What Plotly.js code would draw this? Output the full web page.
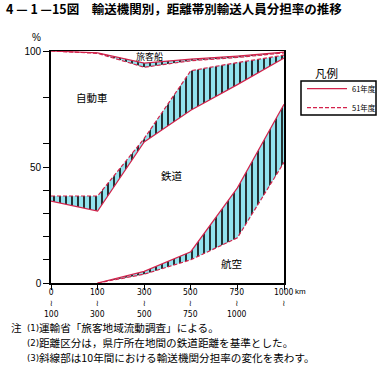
<!DOCTYPE html>
<html>
<head>
<meta charset="utf-8">
<script src="https://cdn.plot.ly/plotly-3.0.1.min.js"></script>
<style>html,body{margin:0;padding:0;background:#fff;}#chart{width:381px;height:371px;}</style>
</head>
<body>
<div id="chart"></div>
<script>
// distance bands (km) – category positions
const distIndex = [0, 1, 2, 3, 4, 5];
const tickTop = ['0', '100', '300', '500', '750', '1000'];
const tickBottom = ['100', '300', '500', '750', '1000', ''];
// boundary car / passenger ship (cumulative %)
const ship61 = [100, 99.2, 94.8, 96.5, 97.8, 99.5];
const ship51 = [100, 99.0, 93.0, 95.8, 97.2, 99.2];
// boundary rail / car (cumulative %)
const car61 = [35.3, 31.0, 60.8, 74.5, 85.5, 97.0];
const car51 = [37.5, 37.5, 62.3, 91.5, 95.0, 98.2];
// boundary air / rail (cumulative %), from the 100km band on
const airIndex = [1, 2, 3, 4, 5];
const air61 = [0, 5.0, 13.5, 41.0, 77.0];
const air51 = [0, 3.8, 10.0, 19.5, 52.0];
// y ticks
const yTickVals = [0, 10, 20, 30, 40, 50, 60, 80, 100];
const yTickText = ['0', '', '', '', '', '50', '', '', '100'];
// region labels
const regionNames = ['自動車', '旅客船', '鉄道', '航空'];
const regionX = [0.87, 2.12, 2.6, 3.88];
const regionY = [80, 97.8, 46.5, 8.3];
const legendNames = ['61年度', '51年度'];
const noteMarks = ['(1)', '(2)', '(3)'];
const notes = ['運輸省「旅客地域流動調査」による。',
               '距離区分は，県庁所在地間の鉄道距離を基準とした。',
               '斜線部は10年間における輸送機関分担率の変化を表わす。'];

const RED = '#d3224b';
const DASH = '4px,2px';
const CJK = '"Noto Sans CJK JP", "Noto Sans", sans-serif';
const NUM = '"Liberation Sans Narrow", "DejaVu Sans Condensed", Arial, sans-serif';
const pattern = {shape: '|', size: 6, solidity: 0.28, fgcolor: '#101010', bgcolor: '#92e2ee', fillmode: 'replace'};

function band(x, y51, y61) {
  return [
    {x: x, y: y51, type: 'scatter', mode: 'lines', line: {color: RED, width: 1.2, dash: DASH}, showlegend: false, hoverinfo: 'skip'},
    {x: x, y: y61, type: 'scatter', mode: 'lines', line: {color: RED, width: 1.2}, fill: 'tonexty',
     fillcolor: '#92e2ee', fillpattern: pattern, showlegend: false, hoverinfo: 'skip'}
  ];
}

const traces = [].concat(
  band(distIndex, ship51, ship61),
  band(distIndex, car51, car61),
  band(airIndex, air51, air61)
);

const L = 51, T = 51, W = 233, H = 232;
function px(x) { return (x - L) / W; }
function py(y) { return (T + H - y) / H; }

const ann = [];
ann.push({xref: 'paper', yref: 'paper', x: px(4), y: py(8.5), xanchor: 'left', yanchor: 'middle', showarrow: false,
  text: '<b>4 — 1 —15図　輸送機関別，距離帯別輸送人員分担率の推移</b>', font: {family: CJK, size: 12.5, color: '#000'}});
ann.push({xref: 'paper', yref: 'paper', x: px(36), y: py(38), xanchor: 'center', yanchor: 'middle', showarrow: false,
  text: '%', font: {family: 'Liberation Sans, Arial, sans-serif', size: 10, color: '#000'}});
for (let i = 0; i < regionNames.length; i++) {
  ann.push({x: regionX[i], y: regionY[i], xref: 'x', yref: 'y', showarrow: false, text: regionNames[i],
    font: {family: CJK, size: i === 1 ? 9 : 10.5, color: '#000'}});
}
// x tick labels: band start, range mark, band end
for (let i = 0; i < distIndex.length; i++) {
  let t = tickTop[i] + '<br>≀';
  if (tickBottom[i]) t += '<br>' + tickBottom[i];
  ann.push({x: distIndex[i], xref: 'x', yref: 'paper', y: py(285), yanchor: 'top', xanchor: 'center', showarrow: false,
    text: t, align: 'center', font: {family: NUM, size: 8.5, color: '#000'}});
}
ann.push({x: 5, xref: 'x', yref: 'paper', y: py(291), xanchor: 'left', xshift: 9, yanchor: 'middle', showarrow: false,
  text: 'km', font: {family: 'Liberation Sans, Arial, sans-serif', size: 8, color: '#000'}});
// legend (drawn by hand to match the boxed legend)
ann.push({xref: 'paper', yref: 'paper', x: px(326), y: py(73), xanchor: 'center', yanchor: 'middle', showarrow: false,
  text: '凡例', font: {family: CJK, size: 11.5, color: '#000'}});
const legY = [88.7, 107.7];
for (let i = 0; i < legendNames.length; i++) {
  ann.push({xref: 'paper', yref: 'paper', x: px(350), y: py(legY[i]), xanchor: 'left', yanchor: 'middle', showarrow: false,
    text: legendNames[i], font: {family: CJK, size: 7.5, color: '#000'}});
}
const shapes = [
  {type: 'rect', xref: 'paper', yref: 'paper', x0: px(301), x1: px(376), y0: py(81), y1: py(115), line: {color: '#000', width: 1.5}, fillcolor: 'rgba(0,0,0,0)'},
  {type: 'line', xref: 'paper', yref: 'paper', x0: px(307), x1: px(347), y0: py(legY[0]), y1: py(legY[0]), line: {color: RED, width: 1.2}},
  {type: 'line', xref: 'paper', yref: 'paper', x0: px(307), x1: px(347), y0: py(legY[1]), y1: py(legY[1]), line: {color: RED, width: 1.2, dash: DASH}}
];
// notes
ann.push({xref: 'paper', yref: 'paper', x: px(9), y: py(327.5), xanchor: 'left', yanchor: 'middle', showarrow: false,
  text: '注', font: {family: CJK, size: 10.6, color: '#000'}});
const noteY = [327.5, 342.5, 357.5];
for (let i = 0; i < notes.length; i++) {
  ann.push({xref: 'paper', yref: 'paper', x: px(24.5), y: py(noteY[i]), xanchor: 'left', yanchor: 'middle', showarrow: false,
    text: noteMarks[i], font: {family: NUM, size: 9.5, color: '#000'}});
  ann.push({xref: 'paper', yref: 'paper', x: px(37), y: py(noteY[i]), xanchor: 'left', yanchor: 'middle', showarrow: false,
    text: notes[i], font: {family: CJK, size: 10.6, color: '#000'}});
}

const layout = {
  width: 381, height: 371,
  margin: {l: L, r: 381 - L - W, t: T, b: 371 - T - H, pad: 0},
  paper_bgcolor: '#ffffff', plot_bgcolor: '#ffffff',
  showlegend: false,
  xaxis: {range: [0, 5], tickvals: distIndex, showticklabels: false, ticks: 'outside', ticklen: 5, tickcolor: '#000',
    showgrid: false, zeroline: false, showline: true, linecolor: '#000', linewidth: 1.5, mirror: true, fixedrange: true},
  yaxis: {range: [0, 100], tickvals: yTickVals, ticktext: yTickText, ticks: 'outside', ticklen: 6, tickcolor: '#000',
    showgrid: false, zeroline: false, showline: true, linecolor: '#000', linewidth: 1.8, mirror: true,
    tickfont: {family: 'Liberation Sans, Arial, sans-serif', size: 10, color: '#000'}, fixedrange: true},
  annotations: ann,
  shapes: shapes
};

Plotly.newPlot('chart', traces, layout, {staticPlot: true, displayModeBar: false});
</script>
</body>
</html>
